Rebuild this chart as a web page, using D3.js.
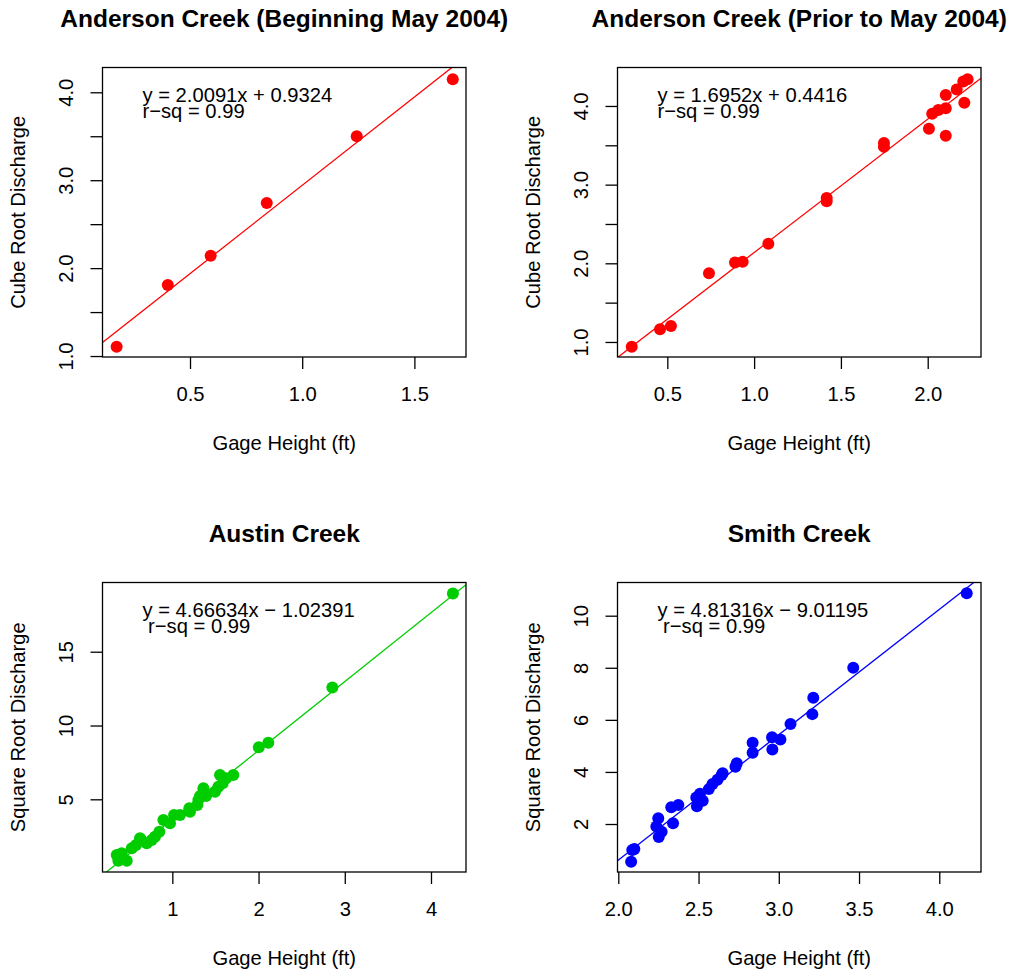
<!DOCTYPE html>
<html>
<head>
<meta charset="utf-8">
<script src="https://cdn.jsdelivr.net/npm/d3@7"></script>
<style>
  html, body { margin: 0; padding: 0; background: #ffffff; }
  svg { display: block; font-family: "Liberation Sans", Arial, Helvetica, sans-serif; }
  text { white-space: pre; }
</style>
</head>
<body>
<svg id="chart" width="1012" height="973"></svg>
<script>
// Rating-curve regressions for three creeks: gage height (ft) against
// transformed discharge, with the fitted line and its equation per panel.

// Anderson Creek, beginning May 2004 (cube root of discharge)
const andersonNewGage = [0.173, 0.401, 0.592, 0.842, 1.243, 1.671];
const andersonNewRoot = [1.106, 1.807, 2.140, 2.742, 3.500, 4.148];

// Anderson Creek, prior to May 2004 (cube root of discharge)
const andersonOldGage = [0.295, 0.458, 0.521, 0.740, 0.890, 0.934, 1.082, 1.418, 1.418, 1.748, 1.748,
                         2.007, 2.026, 2.061, 2.104, 2.104, 2.104, 2.167, 2.211, 2.205, 2.230];
const andersonOldRoot = [0.94, 1.161, 1.204, 1.874, 2.01, 2.02, 2.25, 2.83, 2.79, 3.53, 3.48,
                         3.71, 3.90, 3.95, 3.97, 4.14, 3.62, 4.21, 4.04, 4.31, 4.34];

// Austin Creek (square root of discharge)
const austinGage = [0.355, 0.374, 0.471, 0.413, 0.529, 0.579, 0.633, 0.625, 0.703, 0.761, 0.799,
                    0.849, 0.896, 0.973, 1.020, 1.089, 1.197, 1.205, 1.290, 1.302, 1.321, 1.360,
                    1.391, 1.495, 1.534, 1.553, 1.584, 1.623, 1.707, 2.003, 2.113, 2.856, 4.254];
const austinRoot = [1.23, 0.84, 0.84, 1.34, 1.68, 1.90, 2.29, 2.36, 2.02, 2.24, 2.47,
                    2.81, 3.60, 3.37, 3.94, 3.94, 4.39, 4.16, 4.61, 4.95, 5.22, 5.75,
                    5.22, 5.51, 5.85, 6.65, 6.08, 6.42, 6.65, 8.52, 8.83, 12.58, 18.94];

// Smith Creek (square root of discharge)
const smithGage = [2.080, 2.087, 2.100, 2.249, 2.237, 2.270, 2.252, 2.330, 2.374, 2.341, 2.486,
                   2.490, 2.509, 2.526, 2.564, 2.587, 2.618, 2.644, 2.650, 2.730, 2.738, 2.837,
                   2.837, 2.958, 2.960, 3.010, 3.073, 3.209, 3.215, 3.464, 4.171];
const smithRoot = [0.55, 1.00, 1.04, 2.22, 1.90, 1.70, 1.50, 2.64, 2.73, 2.03, 3.02,
                   2.68, 3.16, 2.89, 3.34, 3.54, 3.70, 3.88, 3.95, 4.20, 4.33, 5.12,
                   4.74, 5.33, 4.86, 5.25, 5.84, 6.22, 6.85, 8.00, 10.86];

// Fitted coefficients and r-squared, one entry per panel
const panelTitles = ["Anderson Creek (Beginning May 2004)", "Anderson Creek (Prior to May 2004)",
                     "Austin Creek", "Smith Creek"];
const fitSlopes = [2.0091, 1.6952, 4.66634, 4.81316];
const fitIntercepts = [0.9324, 0.4416, -1.02391, -9.01195];
const fitRsq = ["0.99", "0.99", "0.99", "0.99"];
const rsqPrefix = ["", "", " ", " "];
const yTitles = ["Cube Root Discharge", "Cube Root Discharge", "Square Root Discharge", "Square Root Discharge"];
const xTitle = "Gage Height (ft)";
const pointColors = ["#ff0000", "#ff0000", "#00cd00", "#0000ff"];

// Axis extents and ticks
const xDomains = [[0.110, 1.730], [0.213, 2.307], [0.190, 4.406], [1.995, 4.260]];
const yDomains = [[0.989, 4.282], [0.809, 4.489], [0.075, 19.69], [0.157, 11.275]];
const xTicks = [[0.5, 1.0, 1.5], [0.5, 1.0, 1.5, 2.0], [1, 2, 3, 4], [2.0, 2.5, 3.0, 3.5, 4.0]];
const xTickLabels = [["0.5", "1.0", "1.5"], ["0.5", "1.0", "1.5", "2.0"], ["1", "2", "3", "4"],
                     ["2.0", "2.5", "3.0", "3.5", "4.0"]];
const yTicks = [[1.0, 1.5, 2.0, 2.5, 3.0, 3.5, 4.0], [1.0, 1.5, 2.0, 2.5, 3.0, 3.5, 4.0],
                [5, 10, 15], [2, 4, 6, 8, 10]];
const yTickLabels = [["1.0", "", "2.0", "", "3.0", "", "4.0"], ["1.0", "", "2.0", "", "3.0", "", "4.0"],
                     ["5", "10", "15"], ["2", "4", "6", "8", "10"]];

const gages = [andersonNewGage, andersonOldGage, austinGage, smithGage];
const roots = [andersonNewRoot, andersonOldRoot, austinRoot, smithRoot];

// Layout: a 2 x 2 grid of plot boxes
const boxLeft = [102.5, 617.5];
const boxTop = [67.5, 582.5];
const boxW = 363.5, boxH = 289.5;
const tickLen = 12;
const baseFont = 20.2;

const svg = d3.select("#chart");
svg.append("rect").attr("width", 1012).attr("height", 973).attr("fill", "#fff");

function fmtCoef(v) { return String(v); }

panelTitles.forEach((title, i) => {
  const x0 = boxLeft[i % 2], y0 = boxTop[Math.floor(i / 2)];
  const xs = d3.scaleLinear().domain(xDomains[i]).range([x0, x0 + boxW]);
  const ys = d3.scaleLinear().domain(yDomains[i]).range([y0 + boxH, y0]);
  const g = svg.append("g");

  const clipId = "clip" + i;
  g.append("clipPath").attr("id", clipId)
    .append("rect").attr("x", x0).attr("y", y0).attr("width", boxW).attr("height", boxH);

  // points
  const pts = gages[i].map((gv, k) => ({ x: gv, y: roots[i][k] }));
  g.append("g").selectAll("circle").data(pts).join("circle")
    .attr("cx", d => xs(d.x)).attr("cy", d => ys(d.y)).attr("r", 6)
    .attr("fill", pointColors[i]);

  // fitted line, clipped to the plot box
  const dx = xDomains[i];
  g.append("line")
    .attr("clip-path", `url(#${clipId})`)
    .attr("x1", xs(dx[0])).attr("y1", ys(fitSlopes[i] * dx[0] + fitIntercepts[i]))
    .attr("x2", xs(dx[1])).attr("y2", ys(fitSlopes[i] * dx[1] + fitIntercepts[i]))
    .attr("stroke", pointColors[i]).attr("stroke-width", 1.3);

  // box
  g.append("rect").attr("x", x0).attr("y", y0).attr("width", boxW).attr("height", boxH)
    .attr("fill", "none").attr("stroke", "#000").attr("stroke-width", 1.3);

  // bottom axis
  const xAxis = d3.axisBottom(xs).tickValues(xTicks[i]).tickSize(tickLen)
    .tickFormat((d, k) => xTickLabels[i][k]);
  const gx = g.append("g").attr("transform", `translate(0,${y0 + boxH})`).call(xAxis);
  gx.select(".domain").remove();
  gx.selectAll(".tick line").attr("stroke", "#000").attr("stroke-width", 1.3);
  gx.selectAll(".tick text").attr("font-size", baseFont).attr("fill", "#000")
    .attr("font-family", "Liberation Sans, Arial, sans-serif")
    .attr("y", 44.4).attr("dy", null);

  // left axis (labels parallel to the axis)
  const yAxis = d3.axisLeft(ys).tickValues(yTicks[i]).tickSize(tickLen)
    .tickFormat((d, k) => yTickLabels[i][k]);
  const gy = g.append("g").attr("transform", `translate(${x0},0)`).call(yAxis);
  gy.select(".domain").remove();
  gy.selectAll(".tick line").attr("stroke", "#000").attr("stroke-width", 1.3);
  gy.selectAll(".tick text").attr("font-size", baseFont).attr("fill", "#000")
    .attr("font-family", "Liberation Sans, Arial, sans-serif")
    .attr("x", null).attr("dy", null).attr("text-anchor", "middle")
    .attr("transform", "translate(-29.5,0) rotate(-90)").attr("y", 0);

  // titles
  g.append("text").attr("x", x0 + boxW / 2).attr("y", y0 - 41)
    .attr("text-anchor", "middle").attr("font-size", 24.5).attr("font-weight", "bold")
    .text(title);
  g.append("text").attr("x", x0 + boxW / 2).attr("y", y0 + boxH + 93)
    .attr("text-anchor", "middle").attr("font-size", baseFont).text(xTitle);
  g.append("text")
    .attr("transform", `translate(${x0 - 78},${y0 + boxH / 2}) rotate(-90)`)
    .attr("text-anchor", "middle").attr("font-size", baseFont).text(yTitles[i]);

  // regression annotation
  const b = fitIntercepts[i];
  const eq = `y = ${fmtCoef(fitSlopes[i])}x ${b < 0 ? "\u2212" : "+"} ${fmtCoef(Math.abs(b))}`;
  g.append("text").attr("x", x0 + 40).attr("y", y0 + 34.5).attr("font-size", baseFont).text(eq);
  g.append("text").attr("x", x0 + 40).attr("y", y0 + 50.5).attr("font-size", baseFont)
    .text(`${rsqPrefix[i]}r\u2212sq = ${fitRsq[i]}`);
});
</script>
</body>
</html>
